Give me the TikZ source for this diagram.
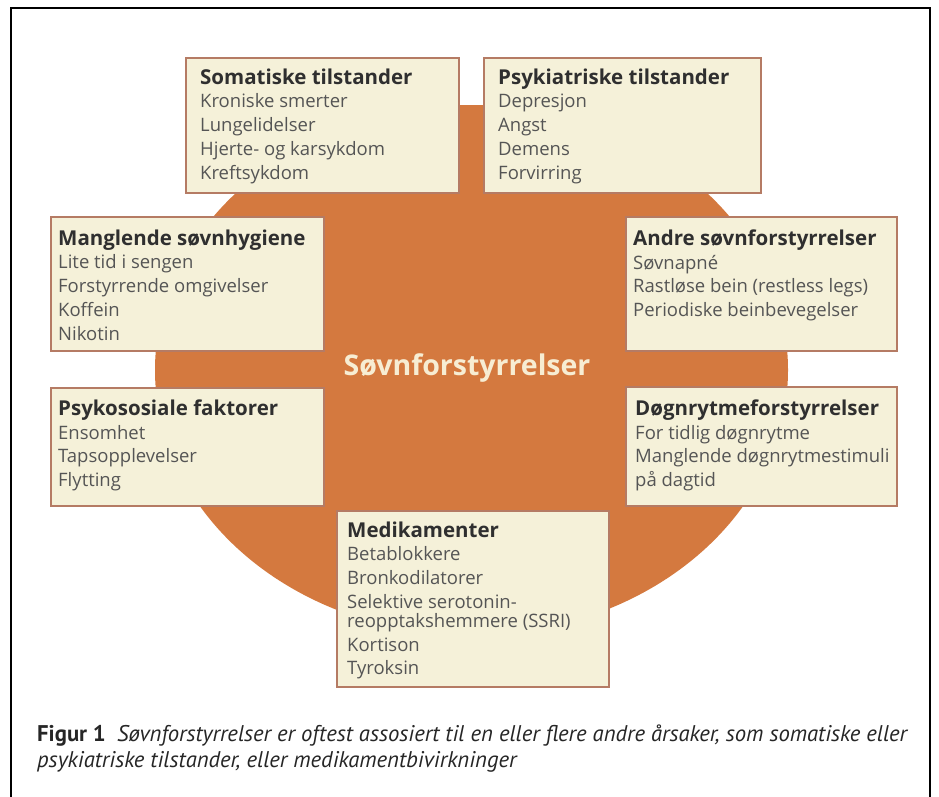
\documentclass[tikz,border=0pt]{standalone}
\usepackage{fontspec}
\setmainfont{Open Sans}
\newfontfamily\capfont{PT Sans}
\definecolor{discfill}{HTML}{D4793F}
\definecolor{boxfill}{HTML}{F5F1D9}
\definecolor{boxline}{HTML}{B57B64}
\definecolor{headgray}{HTML}{2F2F2F}
\definecolor{bodygray}{HTML}{555555}
\definecolor{hubtext}{HTML}{F7EDD3}
\newcommand{\boxhead}[1]{{\fontsize{20.5}{23.7}\selectfont\bfseries\color{headgray}#1}}

\begin{document}
\begin{tikzpicture}[x=1pt,y=-1pt,
  infobox/.style={draw=boxline,line width=1.6pt,fill=boxfill,anchor=north west,inner sep=0pt},
  boxtext/.style={anchor=north west,inner sep=0pt,align=left,text=bodygray,
    font=\fontsize{18.5}{23.7}\selectfont}]
  \useasboundingbox (0,0) rectangle (939,796);
  % outer frame, open at the bottom
  \draw[line width=2.5pt] (11,800) -- (11,8) -- (930,8) -- (930,800);
  % the disc
  \fill[discfill] (471.5,370) ellipse [x radius=316.5,y radius=265];
  \node[font=\fontsize{28.5}{30}\selectfont\bfseries,text=hubtext] (hub) at (467,368) {Søvnforstyrrelser};
  % boxes
  \node[infobox,minimum width=273,minimum height=135] (soma) at (185,57) {};
  \node[infobox,minimum width=277,minimum height=135] (psyk) at (483,57) {};
  \node[infobox,minimum width=273,minimum height=134] (hyg) at (50,216) {};
  \node[infobox,minimum width=271,minimum height=134] (andre) at (625,216) {};
  \node[infobox,minimum width=273,minimum height=118] (sosial) at (50,387) {};
  \node[infobox,minimum width=271,minimum height=119] (dogn) at (625,386) {};
  \node[infobox,minimum width=272,minimum height=176] (medik) at (336,510) {};
  % box texts
  \node[boxtext] (somat) at (200,68.5) {\boxhead{Somatiske tilstander}\\Kroniske smerter\\Lungelidelser\\Hjerte- og karsykdom\\Kreftsykdom};
  \node[boxtext] (psykt) at (498,68.5) {\boxhead{Psykiatriske tilstander}\\Depresjon\\Angst\\Demens\\Forvirring};
  \node[boxtext] (hygt) at (58,229.5) {\boxhead{Manglende søvnhygiene}\\Lite tid i sengen\\Forstyrrende omgivelser\\Koffein\\Nikotin};
  \node[boxtext] (andret) at (633,229.5) {\boxhead{Andre søvnforstyrrelser}\\Søvnapné\\Rastløse bein (restless legs)\\Periodiske beinbevegelser};
  \node[boxtext] (sosialt) at (58,399.5) {\boxhead{Psykososiale faktorer}\\Ensomhet\\Tapsopplevelser\\Flytting};
  \node[boxtext] (dognt) at (635,399.5) {\boxhead{Døgnrytmeforstyrrelser}\\For tidlig døgnrytme\\Manglende døgnrytmestimuli\\på dagtid};
  \node[boxtext] (medikt) at (347,521.5) {\boxhead{Medikamenter}\\Betablokkere\\Bronkodilatorer\\Selektive serotonin-\\[-4.7pt]reopptakshemmere (SSRI)\\Kortison\\Tyroksin};
  % caption
  \node[anchor=north west,inner sep=0pt,align=left,font=\capfont\fontsize{22.7}{26}\selectfont,text=black!85] (cap) at (37,725)
    {{\bfseries Figur 1}\enspace\itshape Søvnforstyrrelser er oftest assosiert til en eller flere andre årsaker, som somatiske eller\\
     \itshape psykiatriske tilstander, eller medikamentbivirkninger};
\end{tikzpicture}
\end{document}
